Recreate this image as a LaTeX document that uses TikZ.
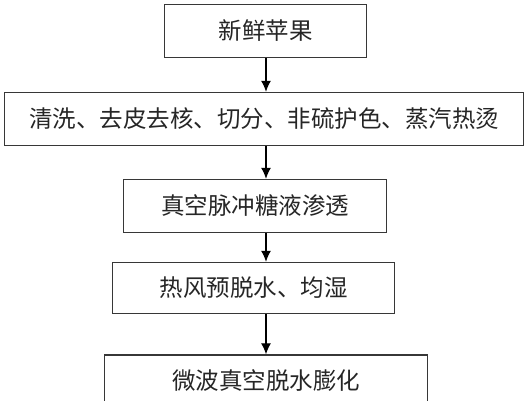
\documentclass[tikz,border=0pt]{standalone}
\usepackage{fontspec}
\newfontfamily\cjk{Noto Sans CJK SC}
\usetikzlibrary{positioning,arrows.meta}
\definecolor{flGray}{RGB}{55,55,55}
\tikzset{
    base/.style={font=\cjk\fontsize{23.5}{28}\selectfont, align=center},
    stage/.style={base, rectangle, draw=flGray, line width=1.4pt, fill=white,
                  text=black!85, inner sep=0pt},
    flow/.style={-{Latex[length=11pt,width=10pt]}, line width=1.2pt, color=black}
}
\begin{document}
\begin{tikzpicture}[x=1pt, y=-1pt]
  \useasboundingbox (0,0) rectangle (532,400);

  % Process steps
  \node[stage, minimum width=202pt, minimum height=53pt] (apple) at (265.5,31) {新鲜苹果};
  \node[stage, minimum width=519pt, minimum height=53pt] (prep) at (264,119) {清洗、去皮去核、切分、非硫护色、蒸汽热烫};
  \node[stage, minimum width=263pt, minimum height=53pt] (osmo) at (255,206) {真空脉冲糖液渗透};
  \node[stage, minimum width=282pt, minimum height=51pt] (predry) at (253.5,288) {热风预脱水、均湿};
  \node[stage, minimum width=323pt, minimum height=54pt] (puff) at (266,382) {\raisebox{4pt}{微波真空脱水膨化}};

  % Arrows
  \draw[flow] (apple.south -| puff) -- (prep.north -| puff);
  \draw[flow] (prep.south -| puff) -- (osmo.north -| puff);
  \draw[flow] (osmo.south -| puff) -- (predry.north -| puff);
  \draw[flow] (predry.south -| puff) -- (puff.north);
\end{tikzpicture}
\end{document}
